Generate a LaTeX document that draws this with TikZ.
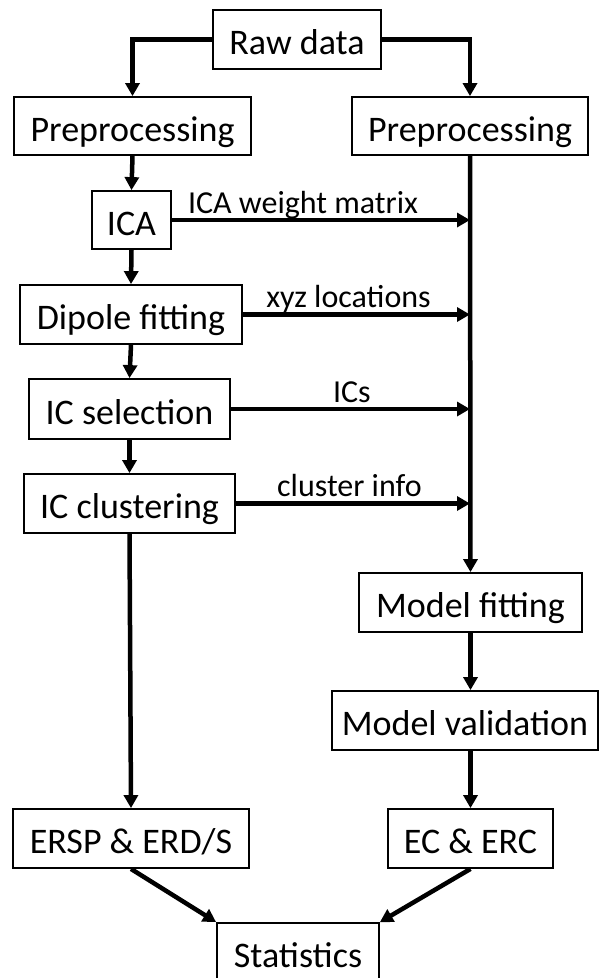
\documentclass[tikz,border=0pt]{standalone}
\usepackage{fontspec}
\setmainfont{Carlito}
\usetikzlibrary{arrows.meta}
\begin{document}
\begin{tikzpicture}[x=1pt,y=-1pt,
  box/.style={draw, line width=1.8pt, inner sep=0pt, text height=30pt, text depth=0pt,
              minimum height=58pt, font=\fontsize{36}{40}\selectfont},
  flow/.style={line width=4.5pt, -{Triangle[length=13pt,width=14pt]}},
  lab/.style={font=\fontsize{32}{36}\selectfont, anchor=base, inner sep=0pt, yshift=7pt}]
\useasboundingbox (0,0) rectangle (600,978);
% nodes
\node[box, minimum width=168pt, minimum height=59pt] (raw) at (297,39.5) {Raw data};
\node[box, minimum width=237pt] (pl) at (132.5,126) {Preprocessing};
\node[box, minimum width=236pt] (pr) at (470,126) {Preprocessing};
\node[box, minimum width=79pt] (ica) at (131.5,220) {ICA};
\node[box, minimum width=222pt, minimum height=59pt] (dip) at (131,314.5) {Dipole fitting};
\node[box, minimum width=201pt, minimum height=60pt] (sel) at (129.5,409) {IC selection};
\node[box, minimum width=211pt, minimum height=59pt] (clu) at (129.5,503.5) {IC clustering};
\node[box, minimum width=223pt, minimum height=59pt] (mf) at (470.5,602.5) {Model fitting};
\node[box, minimum width=266pt, minimum height=59pt] (mv) at (465,720.5) {Model validation};
\node[box, minimum width=236pt, minimum height=59pt] (ersp) at (131,838.5) {ERSP \& ERD/S};
\node[box, minimum width=165pt, minimum height=59pt] (ec) at (470.5,838.5) {EC \& ERC};
\node[box, minimum width=162pt] (stat) at (298,952) {Statistics};
% connectors
\draw[flow] (raw.west) -| (pl.north);
\draw[flow] (raw.east) -| (pr.north);
\draw[flow] (pl.south) -- (ica.north);
\draw[flow] (ica.south) -- (dip.north);
\draw[flow] (dip.south) -- (sel.north);
\draw[flow] (sel.south) -- (clu.north);
\draw[flow] (clu.south) -- (ersp.north);
\draw[flow] (pr.south) -- (mf.north);
\draw[flow] (mf.south) -- (mf.south |- mv.north);
\draw[flow] (ec.north |- mv.south) -- (ec.north);
\draw[flow] (ersp.south) -- (stat.north west);
\draw[flow] (ec.south) -- (stat.north east);
\draw[flow] (ica.east) -- (ica -| pr.south) node[lab, pos=0.44] {ICA weight matrix};
\draw[flow] (dip.east) -- (dip -| pr.south) node[lab, pos=0.465] {xyz locations};
\draw[flow] (sel.east) -- (sel -| pr.south) node[lab, pos=0.506] {ICs};
\draw[flow] (clu.east) -- (clu -| pr.south) node[lab, pos=0.485] {cluster info};
\end{tikzpicture}
\end{document}
